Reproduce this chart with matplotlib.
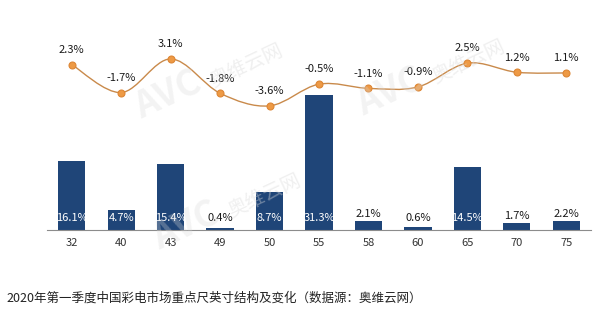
import matplotlib.pyplot as plt
import numpy as np
from matplotlib.path import Path
from matplotlib.patches import PathPatch

plt.rcParams["font.family"] = ["Noto Sans CJK SC", "DejaVu Sans"]

sizes = ["32", "40", "43", "49", "50", "55", "58", "60", "65", "70", "75"]
share = [16.1, 4.7, 15.4, 0.4, 8.7, 31.3, 2.1, 0.6, 14.5, 1.7, 2.2]
change = [2.3, -1.7, 3.1, -1.8, -3.6, -0.5, -1.1, -0.9, 2.5, 1.2, 1.1]
caption = "2020年第一季度中国彩电市场重点尺英寸结构及变化（数据源：奥维云网）"

NAVY = "#1F4578"
LINE = "#C98A4B"
MARKER = "#EE9A45"
MARKER_EDGE = "#DD8634"
TEXT = "#1a1a1a"

fig = plt.figure(figsize=(6.0, 3.27), dpi=100)
ax = fig.add_axes([0.0783, 0.2966, 0.9067, 0.673])
x = np.arange(len(sizes))

ax.bar(x, share, width=0.55, color=NAVY, zorder=2)
for xi, v in zip(x, share):
    if v > 4:
        ax.text(xi, 2.8, f"{v:.1f}%", ha="center", va="center",
                fontsize=8, color="white", zorder=4)
    else:
        # short bars: label sits just above the bar
        ax.text(xi, max(2.8, v + 1.5), f"{v:.1f}%", ha="center", va="center",
                fontsize=8, color=TEXT, zorder=4)

ax.set_xlim(-0.5, len(sizes) - 0.5)
ax.set_ylim(0, 51)
ax.set_xticks(x)
ax.set_xticklabels(sizes, fontsize=8, color="#333333")
ax.tick_params(axis="x", length=0, pad=6)
ax.set_yticks([])
for side in ("top", "right", "left"):
    ax.spines[side].set_visible(False)
ax.spines["bottom"].set_color("#8c8c8c")
ax.spines["bottom"].set_linewidth(0.8)

# change line on its own scale, smoothed with cubic Bezier segments
ax2 = ax.twinx()
ax2.set_ylim(-21.33, 10.1)
ax2.set_axis_off()
pts = np.column_stack([x, change]).astype(float)
verts = [pts[0]]
codes = [Path.MOVETO]
n = len(pts)
for i in range(n - 1):
    p0 = pts[max(i - 1, 0)]
    p1 = pts[i]
    p2 = pts[i + 1]
    p3 = pts[min(i + 2, n - 1)]
    verts += [p1 + (p2 - p0) / 6, p2 - (p3 - p1) / 6, p2]
    codes += [Path.CURVE4] * 3
ax2.add_patch(PathPatch(Path(verts, codes), facecolor="none",
                        edgecolor=LINE, linewidth=1.0, zorder=3))
ax2.plot(x, change, linestyle="none", marker="o", markersize=5,
         markerfacecolor=MARKER, markeredgecolor=MARKER_EDGE,
         markeredgewidth=0.8, zorder=4)
for xi, v in zip(x, change):
    ax2.annotate(f"{v:.1f}%", (xi, v), xytext=(0, 7), textcoords="offset points",
                 ha="center", va="bottom", fontsize=8, color=TEXT)

# faint watermark
for wx, wy in [(0.35, 0.77), (0.72, 0.78), (0.38, 0.37)]:
    fig.text(wx - 0.07, wy - 0.06, "AVC", fontsize=26, fontstyle="italic",
             fontweight="bold", color="#d9d9d9", alpha=0.3, rotation=25,
             ha="center", va="center", zorder=0)
    fig.text(wx + 0.06, wy + 0.03, "奥维云网", fontsize=14, color="#d9d9d9",
             alpha=0.4, rotation=25, ha="center", va="center", zorder=0)

fig.text(0.01, 0.089, caption, fontsize=9, color="#222222",
         ha="left", va="center")

fig.savefig("out.png", dpi=100, facecolor="white")
